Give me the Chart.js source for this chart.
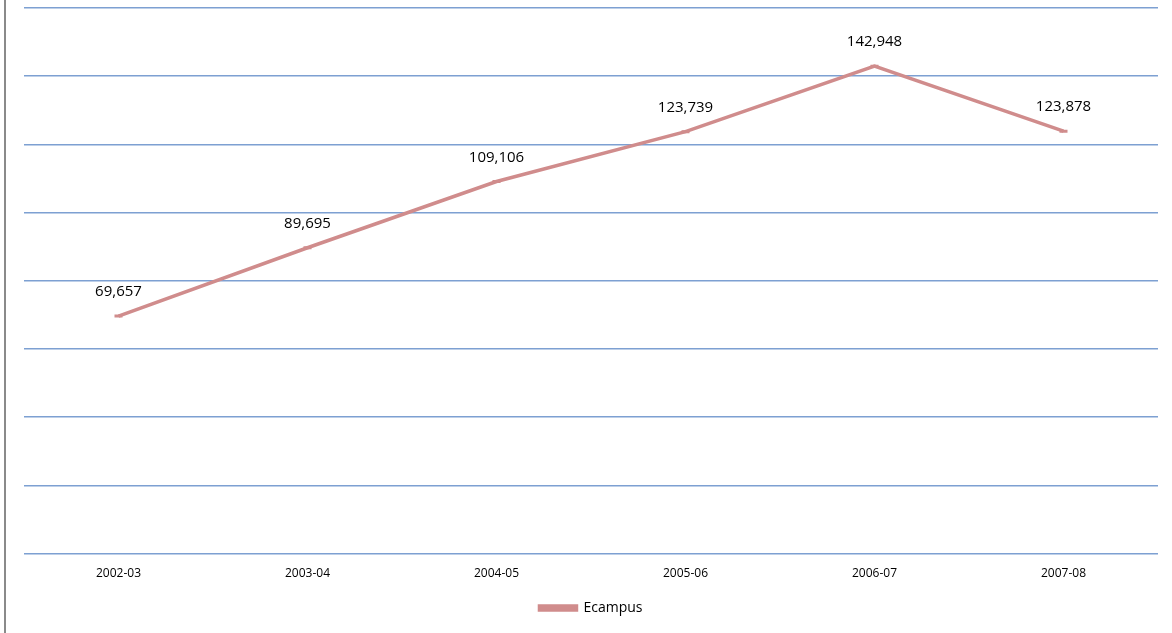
<!DOCTYPE html>
<html>
<head>
<meta charset="utf-8">
<title>Ecampus</title>
<script src="https://cdn.jsdelivr.net/npm/chart.js@4/dist/chart.umd.min.js"></script>
<style>
  html, body { margin: 0; padding: 0; background: #fff; }
  .wrap { position: relative; width: 1172px; height: 633px; }
  .frame { position: absolute; left: 4px; top: 0; width: 2px; height: 633px; background: #8a8a8a; }
  canvas { position: absolute; left: 0; top: 0; }
</style>
</head>
<body>
<div class="wrap">
  <canvas id="chart" width="1172" height="633"></canvas>
  <div class="frame"></div>
</div>
<script>
// data
const years = ['2002-03', '2003-04', '2004-05', '2005-06', '2006-07', '2007-08'];
const ecampus = [69657, 89695, 109106, 123739, 142948, 123878];
const seriesName = 'Ecampus';

const FONT = '"Open Sans", "Liberation Sans", sans-serif';

// labels above each point
const pointLabels = {
  id: 'pointLabels',
  afterDatasetsDraw(chart) {
    const ctx = chart.ctx;
    const meta = chart.getDatasetMeta(0);
    ctx.save();
    ctx.font = '15px ' + FONT;
    ctx.fillStyle = '#000';
    ctx.textAlign = 'center';
    ctx.textBaseline = 'middle';
    meta.data.forEach((pt, i) => {
      ctx.fillText(ecampus[i].toLocaleString('en-US'), pt.x, pt.y - 24);
    });
    ctx.restore();
  }
};

const ctx = document.getElementById('chart').getContext('2d');
const chart = new Chart(ctx, {
  type: 'line',
  data: {
    labels: years,
    datasets: [{
      label: seriesName,
      data: ecampus,
      borderColor: 'rgb(208,140,140)',
      backgroundColor: 'rgb(208,140,140)',
      borderWidth: 3.5,
      pointStyle: 'line',
      pointRadius: 4,
      pointBorderWidth: 3,
      tension: 0
    }]
  },
  options: {
    responsive: false,
    animation: false,
    layout: { padding: { left: 24, right: 14, top: 8, bottom: 8 } },
    scales: {
      x: {
        offset: true,
        grid: { display: false, drawTicks: false },
        border: { display: false },
        ticks: { color: '#000', font: { family: FONT, size: 12 }, padding: 12.5 }
      },
      y: {
        min: 0,
        max: 160000,
        ticks: { display: false, stepSize: 20000 },
        border: { display: false },
        grid: { color: 'rgb(125,160,210)', lineWidth: 1.5, drawTicks: false }
      }
    },
    plugins: {
      legend: {
        position: 'bottom',
        labels: {
          color: '#000',
          font: { family: FONT, size: 14 },
          boxWidth: 37,
          boxHeight: 4,
          padding: 8
        }
      },
      tooltip: { enabled: false }
    }
  },
  plugins: [pointLabels]
});
</script>
</body>
</html>
